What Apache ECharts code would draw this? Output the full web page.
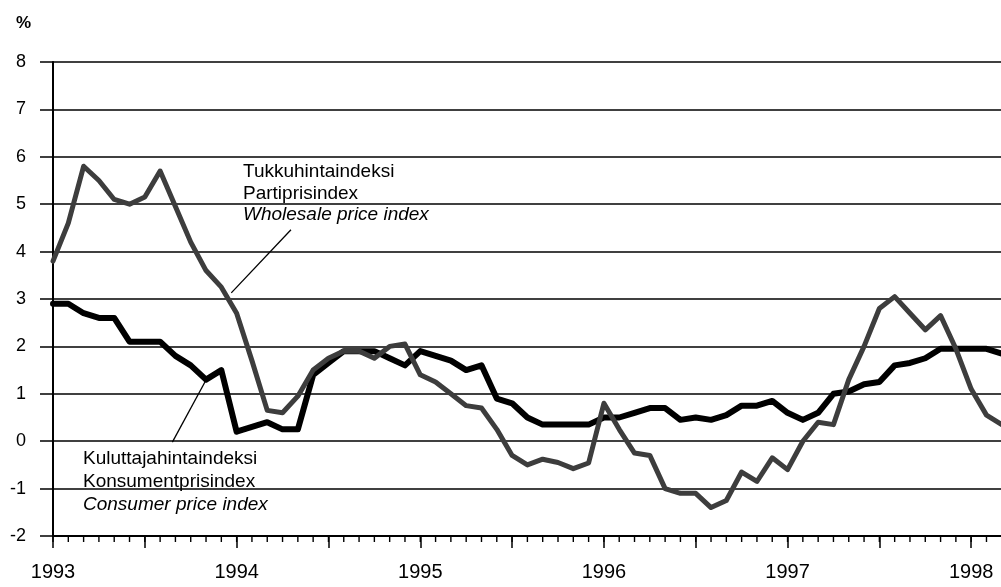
<!DOCTYPE html>
<html>
<head>
<meta charset="utf-8">
<script src="https://cdn.jsdelivr.net/npm/echarts@6/dist/echarts.min.js"></script>
<style>
  html, body { margin: 0; padding: 0; background: #fff; overflow: hidden; width: 1001px; height: 587px; }
  #chart { width: 1066px; height: 587px; }
</style>
</head>
<body>
<div id="chart"></div>
<script>
// Monthly data, January 1993 onward (month index 0 = Jan 1993)
const yearLabels = ['1993', '1994', '1995', '1996', '1997', '1998'];
const monthPositions = [];
for (let m = 0; m <= 66; m++) monthPositions.push(m);
const wholesale = [3.8,4.6,5.8,5.5,5.1,5.0,5.15,5.7,4.95,4.2,
  3.6,3.25,2.7,1.7,0.65,0.6,0.95,1.5,1.75,1.9,
  1.9,1.75,2.0,2.05,1.4,1.25,1.0,0.75,0.7,0.25,
  -0.3,-0.5,-0.38,-0.45,-0.58,-0.46,0.8,0.25,-0.25,-0.3,
  -1.0,-1.1,-1.1,-1.4,-1.25,-0.65,-0.85,-0.35,-0.6,0.0,
  0.4,0.35,1.3,2.0,2.8,3.05,2.7,2.35,2.65,1.95,
  1.1,0.55,0.35];
const consumer = [2.9,2.9,2.7,2.6,2.6,2.1,2.1,2.1,1.8,1.6,
  1.3,1.5,0.2,0.3,0.4,0.25,0.25,1.4,1.65,1.9,
  1.9,1.9,1.75,1.6,1.9,1.8,1.7,1.5,1.6,0.9,
  0.8,0.5,0.35,0.35,0.35,0.35,0.5,0.5,0.6,0.7,
  0.7,0.45,0.5,0.45,0.55,0.75,0.75,0.85,0.6,0.45,
  0.6,1.0,1.05,1.2,1.25,1.6,1.65,1.75,1.95,1.95,
  1.95,1.95,1.85];
const wholesaleLabel = ['Tukkuhintaindeksi', 'Partiprisindex', 'Wholesale price index'];
const consumerLabel = ['Kuluttajahintaindeksi', 'Konsumentprisindex', 'Consumer price index'];

const Y_MIN = -2;
const toPairs = arr => arr.map((v, i) => [i, v]);
const FONT = "'Liberation Sans', Arial, sans-serif";

const chart = echarts.init(document.getElementById('chart'), null, { renderer: 'canvas', width: 1066, height: 587 });

function textEl(x, y, txt, italic) {
  return {
    type: 'text', x: x, y: y, silent: true,
    style: {
      text: txt, fill: '#000', font: (italic ? 'italic ' : '') + '19px ' + FONT,
      textAlign: 'left', textVerticalAlign: 'middle'
    }
  };
}

chart.setOption({
  animation: false,
  backgroundColor: '#fff',
  grid: { left: 53, right: 0, top: 62, bottom: 51, containLabel: false },
  xAxis: {
    type: 'value', min: 0, max: 66, interval: 6, position: 'bottom',
    axisLine: { show: true, onZero: false, lineStyle: { color: '#000', width: 2 } },
    axisTick: { show: true, inside: false, length: 12, lineStyle: { color: '#000', width: 1.5 } },
    splitLine: { show: false },
    axisLabel: {
      show: true, margin: 26, color: '#000', fontFamily: FONT, fontSize: 20,
      formatter: v => (v % 12 === 0 && yearLabels[v / 12]) ? yearLabels[v / 12] : ''
    }
  },
  yAxis: {
    type: 'value', min: Y_MIN, max: 8, interval: 1,
    axisLine: { show: true, lineStyle: { color: '#000', width: 2 } },
    axisTick: { show: true, inside: false, length: 13, lineStyle: { color: '#000', width: 1.5 } },
    splitLine: { show: true, lineStyle: { color: '#000', width: 1.5 } },
    axisLabel: { margin: 27, color: '#000', fontFamily: FONT, fontSize: 18 }
  },
  series: [
    {
      // monthly minor ticks below the time axis
      name: 'monthTicks', type: 'custom', silent: true, clip: false, z: 1,
      data: monthPositions.map(m => [m, Y_MIN]),
      encode: { x: 0, y: 1 },
      renderItem: (params, api) => {
        const p = api.coord([api.value(0), api.value(1)]);
        return {
          type: 'line',
          shape: { x1: p[0], y1: p[1], x2: p[0], y2: p[1] + 6 },
          style: { stroke: '#000', lineWidth: 1.4 }
        };
      }
    },
    {
      name: 'Consumer price index', type: 'line', data: toPairs(consumer),
      showSymbol: false, symbol: 'none', clip: true,
      lineStyle: { color: '#000', width: 6, join: 'round', cap: 'round' },
      markLine: {
        silent: true, symbol: ['none', 'none'], label: { show: false },
        lineStyle: { color: '#000', width: 1.3, type: 'solid' },
        data: [[{ coord: [7.8, -0.02] }, { coord: [10.0, 1.29] }]]
      }
    },
    {
      name: 'Wholesale price index', type: 'line', data: toPairs(wholesale),
      showSymbol: false, symbol: 'none', clip: true,
      lineStyle: { color: '#3d3d3d', width: 5, join: 'round', cap: 'round' },
      markLine: {
        silent: true, symbol: ['none', 'none'], label: { show: false },
        lineStyle: { color: '#000', width: 1.3, type: 'solid' },
        data: [[{ coord: [11.65, 3.13] }, { coord: [15.55, 4.46] }]]
      }
    }
  ],
  graphic: [
    { type: 'text', x: 16, y: 23, silent: true,
      style: { text: '%', fill: '#000', font: 'bold 17px ' + FONT, textAlign: 'left', textVerticalAlign: 'middle' } },
    textEl(243, 172, wholesaleLabel[0], false),
    textEl(243, 194, wholesaleLabel[1], false),
    textEl(243, 215, wholesaleLabel[2], true),
    textEl(83, 459, consumerLabel[0], false),
    textEl(83, 482, consumerLabel[1], false),
    textEl(83, 505, consumerLabel[2], true)
  ]
});
</script>
</body>
</html>
